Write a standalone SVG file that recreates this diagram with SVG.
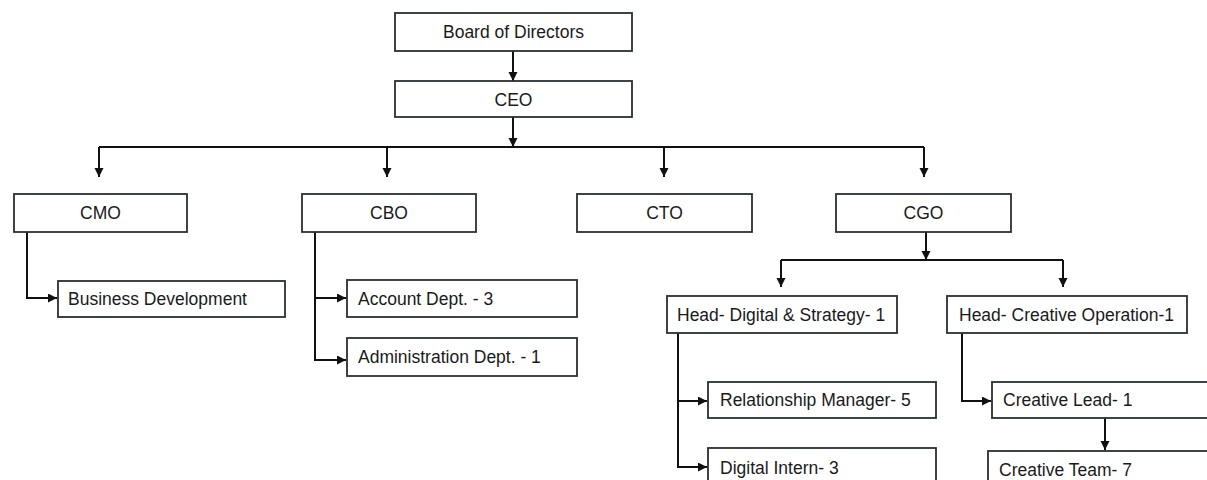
<svg xmlns="http://www.w3.org/2000/svg" width="1207" height="480" viewBox="0 0 1207 480">
  <defs>
    <marker id="arrow" markerUnits="userSpaceOnUse" markerWidth="11" markerHeight="11" refX="9" refY="4.5" orient="auto">
      <path d="M0,0 L9,4.5 L0,9 z" fill="#111"/>
    </marker>
    <style>
      .box { fill: #ffffff; stroke: #2a2f34; stroke-width: 1.8; }
      .lbl { font-family: "Liberation Sans", Arial, sans-serif; font-size: 17.5px; fill: #1a1a1a; }
      .mid { text-anchor: middle; }
      .wire { fill: none; stroke: #111; stroke-width: 2; }
      .tip { marker-end: url(#arrow); }
    </style>
  </defs>
  <rect width="1207" height="480" fill="#ffffff"/>

  <!-- connectors -->
  <g id="connectors">
    <path class="wire tip" d="M513,51 V81"/>
    <path class="wire tip" d="M513,117 V147"/>
    <path class="wire" d="M99,147 H924"/>
    <path class="wire tip" d="M99,147 V177"/>
    <path class="wire tip" d="M387,147 V177"/>
    <path class="wire tip" d="M664,147 V177"/>
    <path class="wire tip" d="M924,147 V177"/>

    <path class="wire tip" d="M27,232 V298 H57"/>

    <path class="wire tip" d="M315,232 V360 H346"/>
    <path class="wire tip" d="M315,298 H346"/>

    <path class="wire tip" d="M926,232 V260"/>
    <path class="wire" d="M781,260 H1063"/>
    <path class="wire tip" d="M781,260 V287"/>
    <path class="wire tip" d="M1063,260 V287"/>

    <path class="wire tip" d="M678,333 V467 H707"/>
    <path class="wire tip" d="M678,401 H707"/>

    <path class="wire tip" d="M962,333 V401 H991"/>
    <path class="wire tip" d="M1105,418 V450"/>
  </g>

  <!-- nodes -->
  <g id="board">
    <rect class="box" x="395" y="13" width="237" height="38"/>
    <text class="lbl mid" x="513.5" y="38">Board of Directors</text>
  </g>
  <g id="ceo">
    <rect class="box" x="395" y="81" width="237" height="36"/>
    <text class="lbl mid" x="513.5" y="105.5">CEO</text>
  </g>
  <g id="cmo">
    <rect class="box" x="14" y="194" width="173" height="38"/>
    <text class="lbl mid" x="100.5" y="219">CMO</text>
  </g>
  <g id="cbo">
    <rect class="box" x="302" y="194" width="174" height="38"/>
    <text class="lbl mid" x="389" y="219">CBO</text>
  </g>
  <g id="cto">
    <rect class="box" x="577" y="194" width="175" height="38"/>
    <text class="lbl mid" x="664.5" y="219">CTO</text>
  </g>
  <g id="cgo">
    <rect class="box" x="836" y="194" width="175" height="38"/>
    <text class="lbl mid" x="923.5" y="219">CGO</text>
  </g>
  <g id="business-development">
    <rect class="box" x="58" y="281" width="227" height="36"/>
    <text class="lbl" x="68" y="305">Business Development</text>
  </g>
  <g id="account-dept">
    <rect class="box" x="347" y="280" width="230" height="37"/>
    <text class="lbl" x="358" y="304.5">Account Dept. - 3</text>
  </g>
  <g id="administration-dept">
    <rect class="box" x="347" y="338" width="230" height="38"/>
    <text class="lbl" x="358" y="363">Administration Dept. - 1</text>
  </g>
  <g id="head-digital">
    <rect class="box" x="667" y="296" width="230" height="37"/>
    <text class="lbl" x="677" y="320.5">Head- Digital &amp; Strategy- 1</text>
  </g>
  <g id="head-creative">
    <rect class="box" x="947" y="296" width="240" height="37"/>
    <text class="lbl" x="959" y="320.5">Head- Creative Operation-1</text>
  </g>
  <g id="relationship-manager">
    <rect class="box" x="708" y="382" width="228" height="36"/>
    <text class="lbl" x="720" y="406">Relationship Manager- 5</text>
  </g>
  <g id="digital-intern">
    <rect class="box" x="708" y="448" width="228" height="40"/>
    <text class="lbl" x="720" y="474">Digital Intern- 3</text>
  </g>
  <g id="creative-lead">
    <rect class="box" x="992" y="382" width="230" height="36"/>
    <text class="lbl" x="1003" y="406">Creative Lead- 1</text>
  </g>
  <g id="creative-team">
    <rect class="box" x="988" y="451" width="230" height="40"/>
    <text class="lbl" x="999" y="476">Creative Team- 7</text>
  </g>
</svg>
